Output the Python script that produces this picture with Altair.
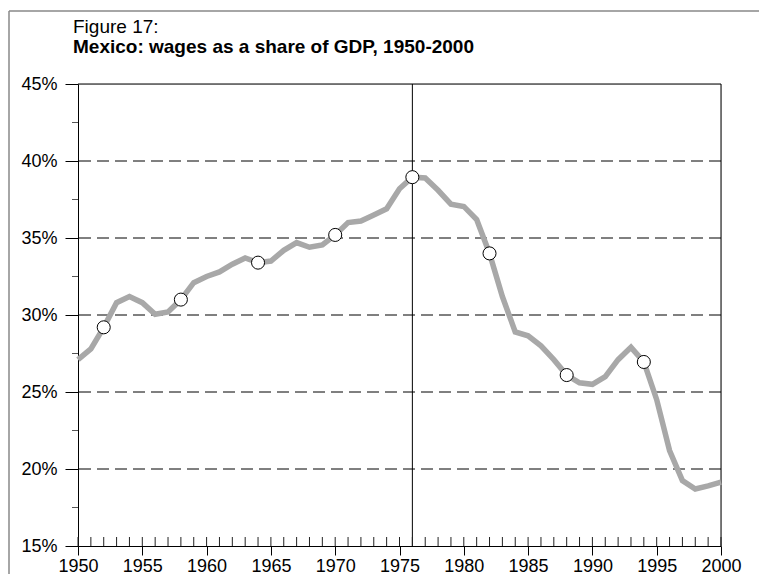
import altair as alt
import pandas as pd

years = list(range(1950, 2001))
wage_share = [27.1, 27.8, 29.2, 30.8, 31.2, 30.8, 30.05, 30.2, 31.0, 32.1,
              32.5, 32.8, 33.3, 33.7, 33.4, 33.5, 34.2, 34.7, 34.4, 34.55,
              35.2, 36.0, 36.1, 36.5, 36.9, 38.2, 38.95, 38.9, 38.1, 37.2,
              37.05, 36.2, 34.0, 31.2, 28.9, 28.65, 28.0, 27.1, 26.1, 25.6,
              25.5, 26.0, 27.1, 27.9, 26.95, 24.5, 21.2, 19.25, 18.7, 18.9, 19.15]
marker_years = [1952, 1958, 1964, 1970, 1976, 1982, 1988, 1994]
grid_values = [20, 25, 30, 35, 40]
y_ticks = [15, 20, 25, 30, 35, 40, 45]
y_minor = [17.5, 22.5, 27.5, 32.5, 37.5, 42.5]
x_major = [1950, 1955, 1960, 1965, 1970, 1975, 1980, 1985, 1990, 1995, 2000]
top_value = [45]
right_year = [2000]
marker_line_year = [1976]
title_line1 = "Figure 17:"
title_line2 = "Mexico: wages as a share of GDP, 1950-2000"

W, H = 643, 462
FONT = "Liberation Sans"

df = pd.DataFrame({"year": years, "share": wage_share})
dm = df[df["year"].isin(marker_years)]

xs = alt.Scale(domain=[1950, 2000], nice=False, zero=False)
ys = alt.Scale(domain=[15, 45], nice=False, zero=False)

x_axis = alt.Axis(values=x_major, format="d", title=None, grid=False,
                  tickSize=9, tickColor="black", domainColor="black",
                  labelColor="black", labelFontSize=18, labelFont=FONT,
                  labelPadding=2, labelFlush=False, labelOverlap=False)
y_axis = alt.Axis(values=y_ticks, labelExpr="datum.value + '%'", title=None,
                  grid=False, tickSize=13, tickColor="black",
                  domainColor="black", labelColor="black", labelFontSize=18,
                  labelFont=FONT, labelPadding=8, labelFlush=False,
                  labelOverlap=False)

X = lambda f: alt.X(f, scale=xs, axis=x_axis)
Y = lambda f: alt.Y(f, scale=ys, axis=y_axis)

grid = alt.Chart(pd.DataFrame({"v": grid_values})).mark_rule(
    color="black", strokeWidth=1, strokeDash=[12, 6]
).encode(y=Y("v:Q"))

top = alt.Chart(pd.DataFrame({"v": top_value})).mark_rule(
    color="black", strokeWidth=1
).encode(y=Y("v:Q"))

verts = alt.Chart(pd.DataFrame({"yr": right_year + marker_line_year})).mark_rule(
    color="black", strokeWidth=1
).encode(x=X("yr:Q"))

x_minor = alt.Chart(pd.DataFrame({"yr": years})).mark_rule(
    color="#222", strokeWidth=1
).encode(x=X("yr:Q"), y=alt.value(H - 9), y2=alt.value(H))

y_min = alt.Chart(pd.DataFrame({"v": y_minor})).mark_rule(
    color="#555", strokeWidth=1
).encode(y=Y("v:Q"), x=alt.value(-6), x2=alt.value(0))

one = pd.DataFrame({"a": [0]})
frame_left = alt.Chart(one).mark_rule(color="#888", strokeWidth=1.5).encode(
    x=alt.value(-69), y=alt.value(-73), y2=alt.value(700))
frame_top = alt.Chart(one).mark_rule(color="#888", strokeWidth=1.5).encode(
    x=alt.value(-69), x2=alt.value(900), y=alt.value(-73))

t1 = alt.Chart(one).mark_text(
    text=title_line1, font=FONT, fontSize=19, align="left",
    baseline="alphabetic", color="black"
).encode(x=alt.value(-5), y=alt.value(-51))
t2 = alt.Chart(one).mark_text(
    text=title_line2, font=FONT, fontSize=19, fontWeight="bold",
    align="left", baseline="alphabetic", color="black"
).encode(x=alt.value(-5), y=alt.value(-31))

line = alt.Chart(df).mark_line(color="#a8a8a8", strokeWidth=5.5).encode(
    x=X("year:Q"), y=Y("share:Q"))

points = alt.Chart(dm).mark_point(
    shape="circle", filled=True, fill="white", stroke="black",
    strokeWidth=1, size=170, opacity=1
).encode(x=X("year:Q"), y=Y("share:Q"))

chart = alt.layer(
    frame_left, frame_top, t1, t2, grid, top, verts, x_minor, y_min, line, points
).properties(
    width=W, height=H,
    autosize=alt.AutoSizeParams(type="none"),
    padding={"left": 70, "top": 76, "right": 38, "bottom": 28},
).configure_view(stroke=None).configure(background="white")

chart.save("out.html", embed_options={"renderer": "svg", "actions": False})
